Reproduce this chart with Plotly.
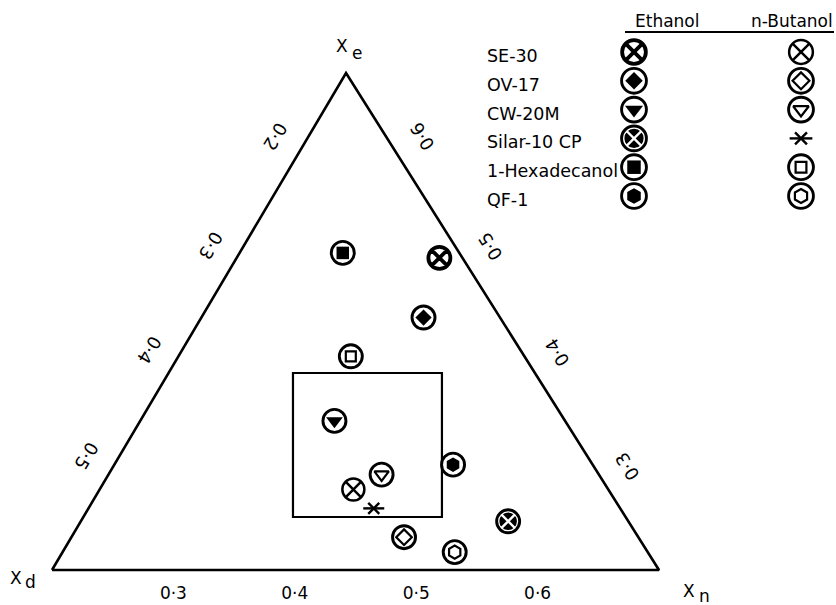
import plotly.graph_objects as go

# ---------------- data (ternary fractions) ----------------
phases = ["SE-30", "OV-17", "CW-20M", "Silar-10 CP", "1-Hexadecanol", "QF-1"]
solvents = ["Ethanol", "n-Butanol"]

eth_xn = [0.367, 0.383, 0.360, 0.552, 0.285, 0.479]
eth_xe = [0.514, 0.454, 0.350, 0.249, 0.519, 0.306]
but_xn = [0.409, 0.474, 0.425, 0.435, 0.342, 0.523]
but_xe = [0.281, 0.233, 0.296, 0.262, 0.415, 0.218]

# triangle corners (Xd, Xn, Xe corners) as (Xn, Xe)
corner_xn = [0.2, 0.7, 0.2, 0.2]
corner_xe = [0.2, 0.2, 0.7, 0.2]

bottom_tickvals = [0.3, 0.4, 0.5, 0.6]
bottom_ticktext = ["0·3", "0·4", "0·5", "0·6"]
left_ticktext = ["0·2", "0·3", "0·4", "0·5"]
right_ticktext = ["0·6", "0·5", "0·4", "0·3"]

# ---------------- geometry / layout ----------------
W, H = 836, 605
B_MARGIN = 30
PLOT_H = H - B_MARGIN
APEX_K = 0.4844          # horizontal offset of the apex in bottom-scale units per unit Xe
FONT = "DejaVu Sans"


def proj(xn, xe):
    xs = [n + APEX_K * (e - 0.2) for n, e in zip(xn, xe)]
    return xs, list(xe)


def px(x):
    return x / W


def py(y):
    return (PLOT_H - y) / PLOT_H


RING = dict(symbol="circle-open", size=23, color="black", lw=2.9, lc="black")


def L(symbol, size, lw=0, color="black", lc="black"):
    return dict(symbol=symbol, size=size, color=color, lw=lw, lc=lc)


styles = {
    ("Ethanol", 0): [L("circle-x-open", 22, 3.8)],
    ("Ethanol", 1): [RING, L("diamond", 12.5)],
    ("Ethanol", 2): [RING, L("triangle-down", 14.5)],
    ("Ethanol", 3): [L("circle-x", 20, 2.4, "black", "white"), RING],
    ("Ethanol", 4): [RING, L("square", 12.5)],
    ("Ethanol", 5): [RING, L("hexagon", 14.5)],
    ("n-Butanol", 0): [L("circle-x-open", 22, 2.5)],
    ("n-Butanol", 1): [RING, L("diamond-open", 12, 2.2)],
    ("n-Butanol", 2): [RING, L("triangle-down-open", 12.5, 2.2)],
    ("n-Butanol", 3): [L("x-thin-open", 11, 2.4), L("line-ew-open", 15, 2.4)],
    ("n-Butanol", 4): [RING, L("square-open", 10, 2.2)],
    ("n-Butanol", 5): [RING, L("hexagon-open", 13, 2.2)],
}

fig = go.Figure()

# triangle
tx, ty = proj(corner_xn, corner_xe)
fig.add_trace(go.Scatter(x=tx, y=ty, mode="lines", line=dict(color="black", width=2.6),
                         hoverinfo="skip", showlegend=False))

# data points
series = {"Ethanol": proj(eth_xn, eth_xe), "n-Butanol": proj(but_xn, but_xe)}
for solv in solvents:
    xs, ys = series[solv]
    for i, ph in enumerate(phases):
        for lay in styles[(solv, i)]:
            fig.add_trace(go.Scatter(
                x=[xs[i]], y=[ys[i]], mode="markers", name=f"{ph} / {solv}",
                marker=dict(symbol=lay["symbol"], size=lay["size"], color=lay["color"],
                            line=dict(width=lay["lw"], color=lay["lc"])),
                showlegend=False))

# legend symbols (column = solvent, row = phase) on an overlay axis pair
for c, solv in enumerate(solvents):
    for i, ph in enumerate(phases):
        for lay in styles[(solv, i)]:
            fig.add_trace(go.Scatter(
                x=[c], y=[i], xaxis="x2", yaxis="y2", mode="markers",
                marker=dict(symbol=lay["symbol"], size=lay["size"] * 1.08, color=lay["color"],
                            line=dict(width=lay["lw"], color=lay["lc"])),
                hoverinfo="skip", showlegend=False))

annotations = []
# legend labels
for i, ph in enumerate(phases):
    annotations.append(dict(x=-0.895, y=i, xref="x2", yref="y2", text=ph, showarrow=False,
                            xanchor="left", yanchor="middle", yshift=-4,
                            font=dict(family=FONT, size=17.5, color="black")))
annotations.append(dict(x=px(667), y=py(21), xref="paper", yref="paper", text="Ethanol",
                        showarrow=False, xanchor="center", yanchor="middle",
                        font=dict(family=FONT, size=17, color="black")))
annotations.append(dict(x=px(835), y=py(21), xref="paper", yref="paper", text="n-Butanol",
                        showarrow=False, xanchor="right", yanchor="middle",
                        font=dict(family=FONT, size=17, color="black")))

# corner labels
for (xx, yy, t) in [(342, 46, "X"), (357, 53, "e"), (16, 578, "X"), (30, 582, "d"),
                    (689, 591, "X"), (704, 596, "n")]:
    annotations.append(dict(x=px(xx), y=py(yy), xref="paper", yref="paper", text=t,
                            showarrow=False, xanchor="center", yanchor="middle",
                            font=dict(family=FONT, size=17, color="black")))

# edge tick labels (rotated along the sides)
left_pos = [(275, 136), (210, 246), (150, 350), (87, 456)]
right_pos = [(422, 137), (490, 247), (557, 353), (627, 467)]
for (xx, yy), t in zip(left_pos, left_ticktext):
    annotations.append(dict(x=px(xx), y=py(yy), xref="paper", yref="paper", text=t,
                            showarrow=False, textangle=121, xanchor="center", yanchor="middle",
                            font=dict(family=FONT, size=18, color="black")))
for (xx, yy), t in zip(right_pos, right_ticktext):
    annotations.append(dict(x=px(xx), y=py(yy), xref="paper", yref="paper", text=t,
                            showarrow=False, textangle=-122, xanchor="center", yanchor="middle",
                            font=dict(family=FONT, size=18, color="black")))

shapes = [
    dict(type="rect", xref="x", yref="y", x0=0.3985, x1=0.5212, y0=0.2533, y1=0.3982,
         line=dict(color="black", width=2.2)),
    dict(type="line", xref="paper", yref="paper", x0=px(625), x1=px(834), y0=py(32), y1=py(32),
         line=dict(color="black", width=2)),
]

x_lo = 0.2 - 52 / 1214
x_hi = 0.2 + (W - 52) / 1214
y_lo = 0.2 - (PLOT_H - 570) / 994
y_hi = 0.2 + 570 / 994

row_px = 28.8
fig.update_layout(
    width=W, height=H, autosize=False,
    margin=dict(l=0, r=0, t=0, b=B_MARGIN),
    paper_bgcolor="white", plot_bgcolor="white",
    showlegend=False,
    xaxis=dict(range=[x_lo, x_hi], tickvals=bottom_tickvals, ticktext=bottom_ticktext,
               showgrid=False, zeroline=False, showline=False, ticks="outside", ticklen=3,
               tickcolor="rgba(0,0,0,0)",
               tickfont=dict(family=FONT, size=17, color="black"), fixedrange=True),
    yaxis=dict(range=[y_lo, y_hi], visible=False, fixedrange=True),
    xaxis2=dict(overlaying="x", anchor="y2", range=[-634 / 167, (W - 634) / 167], visible=False),
    yaxis2=dict(overlaying="y", anchor="x2",
                range=[(PLOT_H - 52) / row_px, -52 / row_px], visible=False),
    annotations=annotations,
    shapes=shapes,
)

fig.write_html("out.html", config={"displayModeBar": False},
               post_script="document.body.style.margin='0';document.body.style.overflow='hidden';")
